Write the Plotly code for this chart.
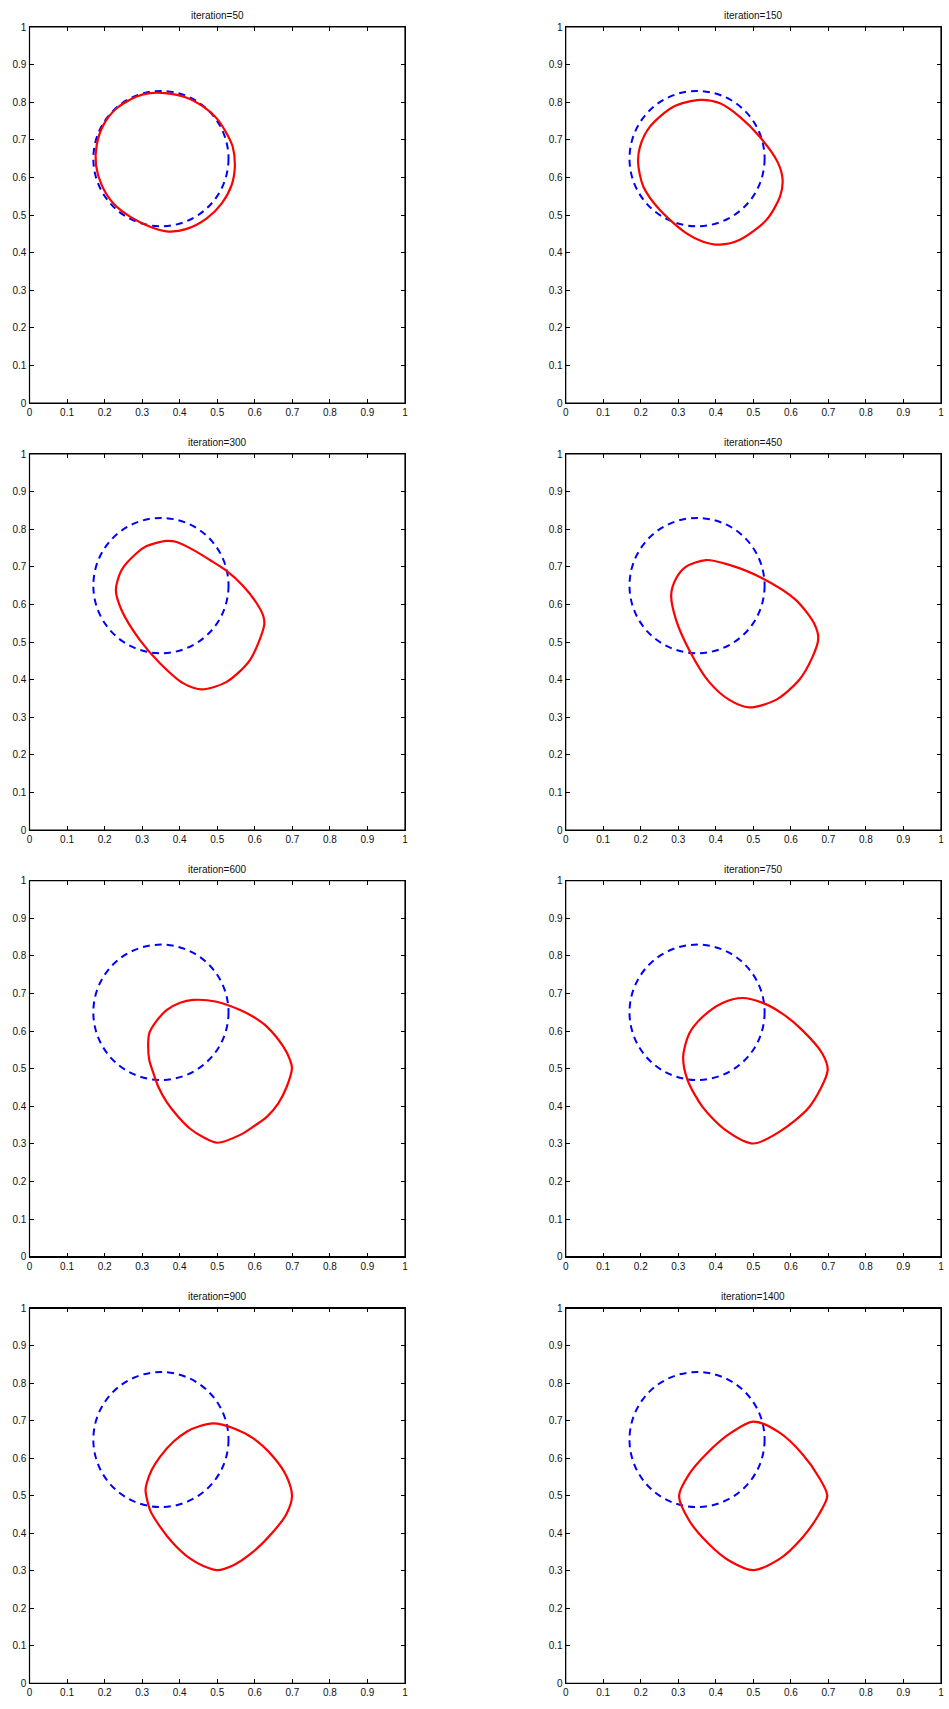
import plotly.graph_objects as go

# ---------------- data ----------------
titles = ["iteration=50", "iteration=150", "iteration=300", "iteration=450",
          "iteration=600", "iteration=750", "iteration=900", "iteration=1400"]

# reference (initial) circle: centre and radius
ref_cx = 0.35
ref_cy = 0.65
ref_r = 0.18

tick_vals = [0, 0.1, 0.2, 0.3, 0.4, 0.5, 0.6, 0.7, 0.8, 0.9, 1]
tick_text = ["0", "0.1", "0.2", "0.3", "0.4", "0.5", "0.6", "0.7", "0.8", "0.9", "1"]

it50_x = [0.361, 0.4186, 0.463, 0.4985, 0.525, 0.541, 0.547, 0.5385, 0.512, 0.472, 0.4186, 0.370,
          0.321, 0.2676, 0.223, 0.192, 0.177, 0.179, 0.1966, 0.232, 0.2855, 0.321]
it50_y = [0.824, 0.812, 0.788, 0.757, 0.717, 0.682, 0.633, 0.580, 0.531, 0.491, 0.463, 0.456,
          0.469, 0.4955, 0.531, 0.580, 0.633, 0.686, 0.739, 0.784, 0.815, 0.824]

it150_x = [0.358, 0.287, 0.2245, 0.198, 0.193, 0.207, 0.251, 0.322, 0.366, 0.411, 0.464, 0.535, 0.571, 0.578, 0.566, 0.517, 0.464, 0.411]
it150_y = [0.806, 0.788, 0.735, 0.682, 0.638, 0.575, 0.513, 0.451, 0.429, 0.421, 0.434, 0.487, 0.549, 0.593, 0.638, 0.708, 0.761, 0.797]

it300_x = [0.364, 0.312, 0.285, 0.245, 0.230, 0.245, 0.294, 0.348, 0.410, 0.459, 0.525, 0.587, 0.625,
           0.6226, 0.605, 0.569, 0.525, 0.4805, 0.436, 0.392]
it300_y = [0.769, 0.755, 0.736, 0.691, 0.638, 0.585, 0.505, 0.443, 0.390, 0.374, 0.394, 0.452, 0.545,
           0.569, 0.603, 0.649, 0.689, 0.718, 0.745, 0.766]

it450_x = [0.374, 0.320, 0.294, 0.281, 0.294, 0.329, 0.382, 0.436, 0.489, 0.560, 0.622, 0.658, 0.673, 0.662, 0.613, 0.525, 0.436]
it450_y = [0.718, 0.700, 0.669, 0.625, 0.559, 0.479, 0.394, 0.346, 0.326, 0.346, 0.399, 0.461, 0.509, 0.549, 0.612, 0.669, 0.705]

it600_x = [0.436, 0.401, 0.365, 0.334, 0.319, 0.316, 0.319, 0.330, 0.343, 0.365, 0.392, 0.427, 0.463, 0.500,
           0.561, 0.596, 0.632, 0.6626, 0.685, 0.699, 0.694, 0.676, 0.632, 0.596, 0.561, 0.4985]
it600_y = [0.683, 0.6755, 0.656, 0.621, 0.594, 0.563, 0.523, 0.488, 0.452, 0.412, 0.377, 0.341, 0.3175, 0.303,
           0.324, 0.346, 0.372, 0.408, 0.452, 0.501, 0.523, 0.5585, 0.612, 0.638, 0.656, 0.678]

it750_x = [0.471, 0.418, 0.365, 0.329, 0.313, 0.325, 0.365, 0.427, 0.500, 0.569, 0.649, 0.698, 0.684, 0.631, 0.578, 0.525]
it750_y = [0.688, 0.675, 0.638, 0.593, 0.531, 0.469, 0.398, 0.336, 0.301, 0.332, 0.398, 0.496, 0.540, 0.602, 0.646, 0.675]

it900_x = [0.4895, 0.454, 0.4186, 0.383, 0.3475, 0.3254, 0.312, 0.309, 0.321, 0.3475, 0.383, 0.427, 0.463, 0.500,
           0.543, 0.596, 0.649, 0.685, 0.699, 0.685, 0.649, 0.596, 0.543]
it900_y = [0.693, 0.686, 0.671, 0.644, 0.604, 0.569, 0.533, 0.515, 0.462, 0.418, 0.373, 0.333, 0.313, 0.302,
           0.315, 0.351, 0.404, 0.453, 0.499, 0.551, 0.604, 0.653, 0.680]

it1400_x = [0.500, 0.436, 0.374, 0.329, 0.302, 0.329, 0.382, 0.436, 0.500, 0.569, 0.631, 0.675, 0.697, 0.675, 0.631, 0.569]
it1400_y = [0.698, 0.665, 0.611, 0.558, 0.500, 0.434, 0.371, 0.327, 0.302, 0.331, 0.389, 0.451, 0.500, 0.549, 0.611, 0.669]

curves = [(it50_x, it50_y), (it150_x, it150_y), (it300_x, it300_y), (it450_x, it450_y),
          (it600_x, it600_y), (it750_x, it750_y), (it900_x, it900_y), (it1400_x, it1400_y)]

# ---------------- layout geometry ----------------
W, H = 949, 1709
col_px = [(29.5, 405.0), (565.7, 941.0)]
row_px = [(27.0, 403.0), (454.0, 830.0), (880.7, 1256.7), (1308.3, 1683.3)]

FONT = "Liberation Sans, Arial, Helvetica, sans-serif"

fig = go.Figure()
layout = dict(
    width=W, height=H,
    margin=dict(l=0, r=0, t=0, b=0, autoexpand=False),
    paper_bgcolor="white", plot_bgcolor="white",
    showlegend=False,
    font=dict(family=FONT, size=10, color="#111111"),
    annotations=[], shapes=[],
)

for i, (cx_list, cy_list) in enumerate(curves):
    r, c = divmod(i, 2)
    n = "" if i == 0 else str(i + 1)
    xa, ya = "x" + n, "y" + n
    x0p, x1p = col_px[c]
    y0p, y1p = row_px[r]
    xdom = [x0p / W, x1p / W]
    ydom = [1 - y1p / H, 1 - y0p / H]
    axis_common = dict(
        range=[0, 1], showgrid=False, zeroline=False, automargin=False,
        showline=True, linecolor="black", linewidth=1.2, mirror="ticks",
        ticks="inside", ticklen=4, tickwidth=1, tickcolor="black",
        tickvals=tick_vals, ticktext=tick_text, ticklabeloverflow="allow",
        tickfont=dict(family=FONT, size=10, color="#111111"),
        fixedrange=True,
    )
    layout["xaxis" + n] = dict(axis_common, domain=xdom, anchor=ya)
    layout["yaxis" + n] = dict(axis_common, domain=ydom, anchor=xa)

    # axes box (frame of the subplot)
    layout["shapes"].append(dict(
        type="rect", xref=xa + " domain", yref=ya + " domain",
        x0=0, x1=1, y0=0, y1=1,
        line=dict(color="black", width=1.2), fillcolor="rgba(0,0,0,0)",
        layer="above",
    ))

    # reference circle (blue dashed)
    layout["shapes"].append(dict(
        type="circle", xref=xa, yref=ya,
        x0=ref_cx - ref_r, x1=ref_cx + ref_r,
        y0=ref_cy - ref_r, y1=ref_cy + ref_r,
        line=dict(color="blue", width=2, dash="7px,5px"),
        layer="below",
    ))

    # evolving contour (red)
    fig.add_trace(go.Scatter(
        x=list(cx_list) + [cx_list[0]], y=list(cy_list) + [cy_list[0]],
        mode="lines", line=dict(color="red", width=2.2, shape="spline", smoothing=0.8),
        xaxis=xa, yaxis=ya, hoverinfo="skip",
    ))

    layout["annotations"].append(dict(
        text=titles[i], xref="paper", yref="paper",
        x=(xdom[0] + xdom[1]) / 2, y=ydom[1],
        xanchor="center", yanchor="bottom", yshift=4, showarrow=False,
        font=dict(family=FONT, size=10, color="#111111"),
    ))

fig.update_layout(**layout)
# remove the default page margin so the figure starts at the window corner
fig.write_html(
    "out.html",
    config={"responsive": False, "displayModeBar": False},
    post_script="document.body.style.margin='0';document.body.style.overflow='hidden';",
)
